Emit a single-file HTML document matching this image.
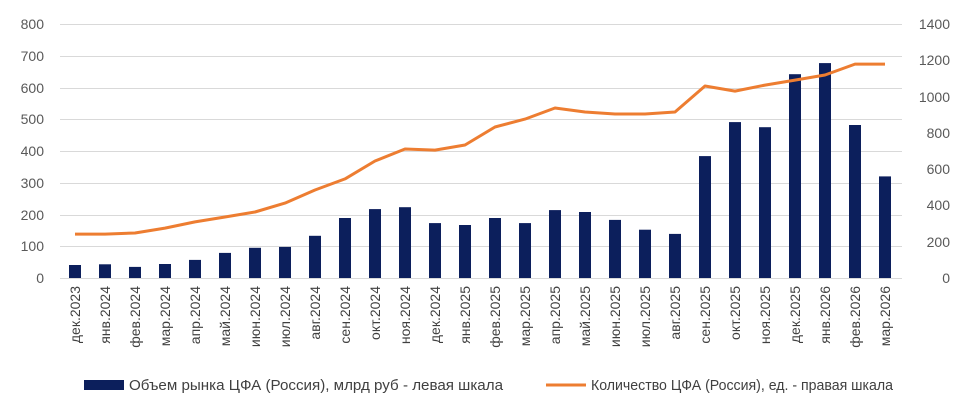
<!DOCTYPE html>
<html><head><meta charset="utf-8"><style>
body{margin:0;background:#fff}
svg{display:block;font-family:"Liberation Sans",sans-serif}
</style></head><body>
<svg width="974" height="403" xmlns="http://www.w3.org/2000/svg">
<g stroke="#d9d9d9" stroke-width="1">
<line x1="60" x2="902" y1="24.5" y2="24.5"/><line x1="60" x2="902" y1="56.5" y2="56.5"/>
<line x1="60" x2="902" y1="88.5" y2="88.5"/><line x1="60" x2="902" y1="119.5" y2="119.5"/>
<line x1="60" x2="902" y1="151.5" y2="151.5"/><line x1="60" x2="902" y1="183.5" y2="183.5"/>
<line x1="60" x2="902" y1="215.5" y2="215.5"/><line x1="60" x2="902" y1="246.5" y2="246.5"/>
<line x1="60" x2="902" y1="278.5" y2="278.5"/>
</g>
<g font-size="14" fill="#595959" text-anchor="end">
<text x="44" y="29">800</text><text x="44" y="61">700</text><text x="44" y="93">600</text>
<text x="44" y="124">500</text><text x="44" y="156">400</text><text x="44" y="188">300</text>
<text x="44" y="220">200</text><text x="44" y="251">100</text><text x="44" y="283">0</text>
</g>
<g font-size="14" fill="#595959" text-anchor="end">
<text x="950" y="29">1400</text><text x="950" y="65">1200</text><text x="950" y="102">1000</text>
<text x="950" y="138">800</text><text x="950" y="174">600</text><text x="950" y="210">400</text>
<text x="950" y="247">200</text><text x="950" y="283">0</text>
</g>
<g fill="#0c1f5c">
<rect x="69" y="265" width="12" height="13"/>
<rect x="99" y="264.3" width="12" height="13.7"/>
<rect x="129" y="266.9" width="12" height="11.1"/>
<rect x="159" y="264" width="12" height="14"/>
<rect x="189" y="259.9" width="12" height="18.1"/>
<rect x="219" y="252.9" width="12" height="25.1"/>
<rect x="249" y="247.8" width="12" height="30.2"/>
<rect x="279" y="246.9" width="12" height="31.1"/>
<rect x="309" y="235.8" width="12" height="42.2"/>
<rect x="339" y="218" width="12" height="60"/>
<rect x="369" y="209.1" width="12" height="68.9"/>
<rect x="399" y="207.2" width="12" height="70.8"/>
<rect x="429" y="223.1" width="12" height="54.9"/>
<rect x="459" y="225" width="12" height="53"/>
<rect x="489" y="218" width="12" height="60"/>
<rect x="519" y="223.1" width="12" height="54.9"/>
<rect x="549" y="210.1" width="12" height="67.9"/>
<rect x="579" y="212" width="12" height="66"/>
<rect x="609" y="219.9" width="12" height="58.1"/>
<rect x="639" y="229.7" width="12" height="48.3"/>
<rect x="669" y="233.9" width="12" height="44.1"/>
<rect x="699" y="156.1" width="12" height="121.9"/>
<rect x="729" y="122.1" width="12" height="155.9"/>
<rect x="759" y="127.2" width="12" height="150.8"/>
<rect x="789" y="74.2" width="12" height="203.8"/>
<rect x="819" y="63.1" width="12" height="214.9"/>
<rect x="849" y="125" width="12" height="153"/>
<rect x="879" y="176.4" width="12" height="101.6"/>
</g>
<polyline fill="none" stroke="#ed7d31" stroke-width="3" stroke-linejoin="round" points="75,234.1 105,234.1 135,233 165,228.1 195,221.9 225,217 255,212 285,203.1 315,190 345,178.9 375,161 405,149 435,150.1 465,145 495,127 525,119.1 555,108 585,112 615,114 645,114 675,112 705,86 735,91.1 765,85.1 795,80.1 825,75 855,64.1 885,64.1"/>
<g font-size="14" fill="#404040" text-anchor="end">
<text transform="translate(80,286) rotate(-90)">дек.2023</text>
<text transform="translate(110,286) rotate(-90)">янв.2024</text>
<text transform="translate(140,286) rotate(-90)">фев.2024</text>
<text transform="translate(170,286) rotate(-90)">мар.2024</text>
<text transform="translate(200,286) rotate(-90)">апр.2024</text>
<text transform="translate(230,286) rotate(-90)">май.2024</text>
<text transform="translate(260,286) rotate(-90)">июн.2024</text>
<text transform="translate(290,286) rotate(-90)">июл.2024</text>
<text transform="translate(320,286) rotate(-90)">авг.2024</text>
<text transform="translate(350,286) rotate(-90)">сен.2024</text>
<text transform="translate(380,286) rotate(-90)">окт.2024</text>
<text transform="translate(410,286) rotate(-90)">ноя.2024</text>
<text transform="translate(440,286) rotate(-90)">дек.2024</text>
<text transform="translate(470,286) rotate(-90)">янв.2025</text>
<text transform="translate(500,286) rotate(-90)">фев.2025</text>
<text transform="translate(530,286) rotate(-90)">мар.2025</text>
<text transform="translate(560,286) rotate(-90)">апр.2025</text>
<text transform="translate(590,286) rotate(-90)">май.2025</text>
<text transform="translate(620,286) rotate(-90)">июн.2025</text>
<text transform="translate(650,286) rotate(-90)">июл.2025</text>
<text transform="translate(680,286) rotate(-90)">авг.2025</text>
<text transform="translate(710,286) rotate(-90)">сен.2025</text>
<text transform="translate(740,286) rotate(-90)">окт.2025</text>
<text transform="translate(770,286) rotate(-90)">ноя.2025</text>
<text transform="translate(800,286) rotate(-90)">дек.2025</text>
<text transform="translate(830,286) rotate(-90)">янв.2026</text>
<text transform="translate(860,286) rotate(-90)">фев.2026</text>
<text transform="translate(890,286) rotate(-90)">мар.2026</text>
</g>
<rect x="84" y="380" width="40" height="10" fill="#0c1f5c"/>
<text x="129" y="390" font-size="15" fill="#404040" textLength="374" lengthAdjust="spacingAndGlyphs">Объем рынка ЦФА (Россия), млрд руб - левая шкала</text>
<line x1="546" x2="586" y1="385" y2="385" stroke="#ed7d31" stroke-width="3"/>
<text x="591" y="390" font-size="15" fill="#404040" textLength="302" lengthAdjust="spacingAndGlyphs">Количество ЦФА (Россия), ед. - правая шкала</text>
</svg>
</body></html>
